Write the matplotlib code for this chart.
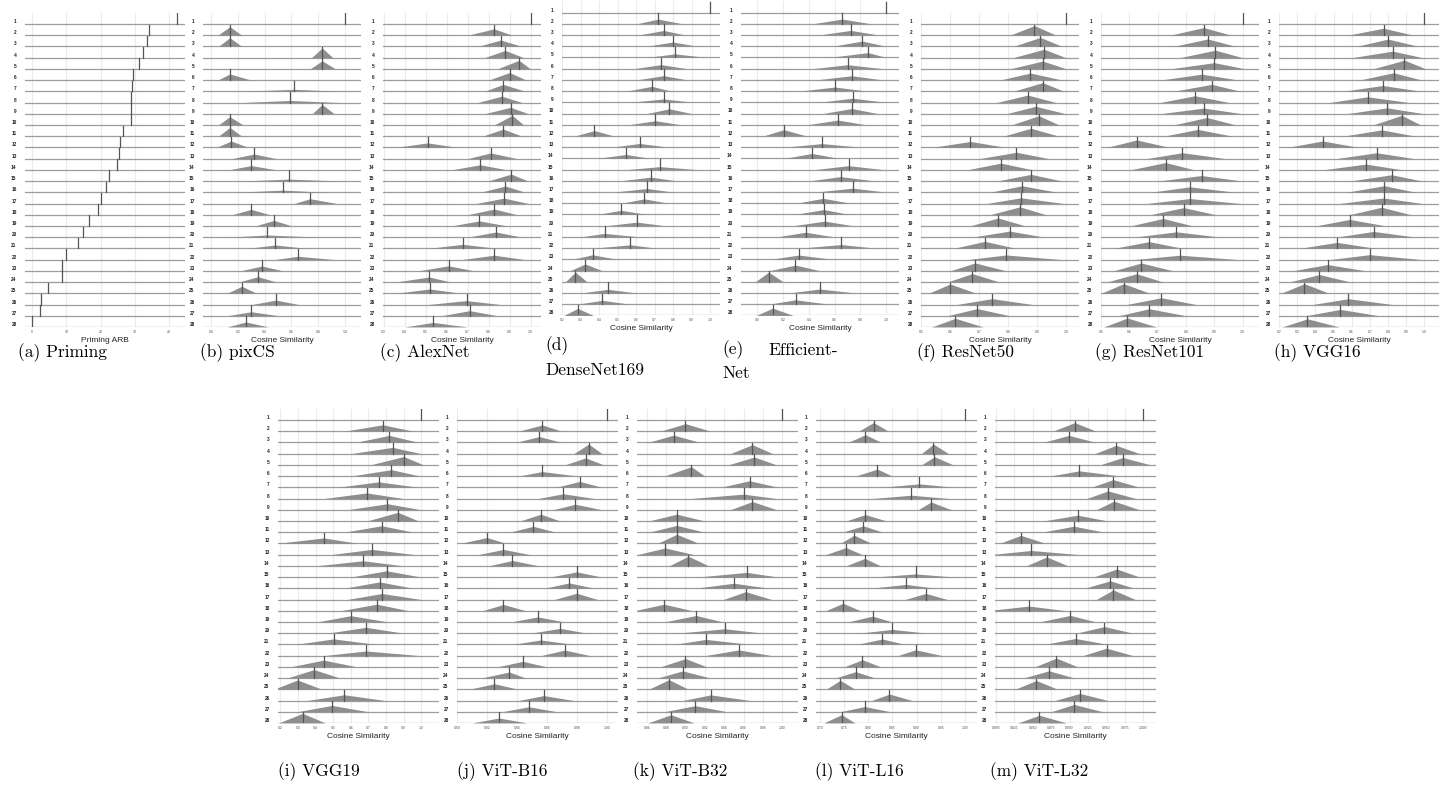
import numpy as np
import matplotlib
matplotlib.use("Agg")
import matplotlib.pyplot as plt

plt.rcParams['font.family'] = ['Liberation Sans', 'DejaVu Sans']

rows = [str(i) for i in range(1, 29)]

# Priming ARB per image (only a median marker, no spread)
priming_arb = [42.4, 34.0, 33.4, 32.3, 31.1, 29.4, 29.1, 28.9, 28.8, 28.8, 26.5, 25.6, 25.3, 24.7,
               22.4, 21.5, 20.0, 19.2, 16.6, 14.9, 13.4, 9.9, 8.8, 8.8, 4.8, 2.8, 2.4, 0.0]

# cosine similarity: median, visible lower end, visible upper end
pixcs_med = [1.0, 0.14, 0.14, 0.83, 0.83, 0.14, 0.62, 0.59, 0.83, 0.14, 0.14, 0.15, 0.32, 0.30,
             0.58, 0.535, 0.74, 0.30, 0.47, 0.42, 0.48, 0.65, 0.38, 0.35, 0.23, 0.485, 0.30, 0.26]
pixcs_lo = [1.0, 0.05, 0.055, 0.75, 0.74, 0.05, 0.22, 0.22, 0.755, 0.055, 0.055, 0.04, 0.155, 0.13,
            0.22, 0.17, 0.62, 0.155, 0.33, 0.12, 0.27, 0.47, 0.22, 0.205, 0.12, 0.305, 0.12, 0.12]
pixcs_hi = [1.0, 0.23, 0.23, 0.91, 0.93, 0.30, 0.99, 0.97, 0.92, 0.24, 0.23, 0.28, 0.49, 0.49,
            0.99, 0.88, 0.94, 0.44, 0.605, 0.82, 0.72, 0.93, 0.54, 0.49, 0.34, 0.655, 0.505, 0.43]

alex_med = [1.0, 0.827, 0.858, 0.879, 0.945, 0.90, 0.87, 0.863, 0.905, 0.913, 0.87, 0.51, 0.81, 0.76,
            0.908, 0.88, 0.874, 0.827, 0.756, 0.835, 0.677, 0.827, 0.61, 0.517, 0.52, 0.695, 0.71, 0.536]
alex_lo = [1.0, 0.70, 0.748, 0.78, 0.842, 0.80, 0.78, 0.748, 0.78, 0.827, 0.77, 0.355, 0.70, 0.622,
           0.795, 0.76, 0.74, 0.70, 0.622, 0.70, 0.512, 0.67, 0.465, 0.355, 0.355, 0.512, 0.575, 0.40]
alex_hi = [1.0, 0.913, 0.96, 0.968, 1.0, 0.98, 0.976, 0.96, 0.99, 0.968, 0.96, 0.654, 0.937, 0.89,
           0.99, 0.976, 0.99, 0.937, 0.89, 0.96, 0.842, 0.976, 0.732, 0.622, 0.67, 0.858, 0.842, 0.70]

dense_med = [1.0, 0.72, 0.75, 0.80, 0.81, 0.735, 0.75, 0.686, 0.75, 0.78, 0.705, 0.375, 0.62, 0.545,
             0.73, 0.68, 0.66, 0.645, 0.52, 0.605, 0.43, 0.57, 0.365, 0.326, 0.272, 0.448, 0.418, 0.285]
dense_lo = [1.0, 0.605, 0.614, 0.66, 0.66, 0.59, 0.605, 0.55, 0.57, 0.66, 0.56, 0.27, 0.47, 0.39,
            0.55, 0.515, 0.48, 0.52, 0.39, 0.44, 0.30, 0.37, 0.254, 0.245, 0.218, 0.30, 0.28, 0.21]
dense_hi = [1.0, 0.85, 0.865, 0.93, 0.98, 0.875, 0.875, 0.79, 0.91, 0.90, 0.84, 0.48, 0.775, 0.68,
            0.93, 0.82, 0.80, 0.775, 0.66, 0.755, 0.62, 0.71, 0.50, 0.416, 0.335, 0.605, 0.57, 0.37]

eff_med = [1.0, 0.66, 0.725, 0.815, 0.86, 0.70, 0.733, 0.60, 0.74, 0.733, 0.626, 0.205, 0.50, 0.423,
           0.708, 0.646, 0.74, 0.51, 0.515, 0.523, 0.374, 0.65, 0.323, 0.295, 0.087, 0.485, 0.297, 0.118]
eff_lo = [1.0, 0.43, 0.48, 0.585, 0.56, 0.43, 0.456, 0.33, 0.48, 0.51, 0.39, 0.046, 0.21, 0.21,
          0.444, 0.405, 0.456, 0.30, 0.29, 0.277, 0.149, 0.33, 0.097, 0.097, -0.018, 0.238, 0.085, -0.01]
eff_hi = [1.0, 0.88, 0.94, 0.995, 1.0, 0.97, 0.97, 0.854, 0.995, 0.93, 0.84, 0.38, 0.80, 0.636,
          0.98, 0.905, 0.995, 0.725, 0.713, 0.74, 0.597, 0.918, 0.585, 0.48, 0.20, 0.764, 0.56, 0.277]

r50_med = [1.0, 0.89, 0.91, 0.923, 0.918, 0.876, 0.918, 0.867, 0.894, 0.905, 0.878, 0.67, 0.828, 0.775,
           0.878, 0.847, 0.843, 0.84, 0.765, 0.805, 0.72, 0.793, 0.686, 0.676, 0.60, 0.744, 0.693, 0.618]
r50_lo = [1.0, 0.805, 0.816, 0.816, 0.805, 0.77, 0.816, 0.76, 0.793, 0.81, 0.782, 0.537, 0.70, 0.657,
          0.76, 0.736, 0.725, 0.736, 0.668, 0.674, 0.61, 0.657, 0.60, 0.59, 0.526, 0.623, 0.59, 0.537]
r50_hi = [1.0, 0.964, 0.986, 0.998, 1.0, 0.986, 0.992, 0.964, 0.998, 0.975, 0.975, 0.793, 0.94, 0.884,
          0.986, 0.97, 0.992, 0.93, 0.86, 0.924, 0.827, 0.986, 0.793, 0.77, 0.69, 0.884, 0.805, 0.714]

r101_med = [1.0, 0.863, 0.877, 0.904, 0.90, 0.856, 0.891, 0.832, 0.863, 0.874, 0.842, 0.626, 0.787, 0.728,
            0.855, 0.814, 0.814, 0.792, 0.72, 0.766, 0.67, 0.78, 0.642, 0.626, 0.58, 0.713, 0.67, 0.593]
r101_lo = [1.0, 0.743, 0.755, 0.778, 0.743, 0.708, 0.755, 0.708, 0.708, 0.755, 0.72, 0.52, 0.66, 0.603,
           0.70, 0.673, 0.66, 0.673, 0.603, 0.614, 0.544, 0.614, 0.544, 0.52, 0.50, 0.59, 0.562, 0.51]
r101_hi = [1.0, 0.96, 0.977, 1.0, 1.01, 0.988, 0.994, 0.953, 1.0, 0.977, 0.965, 0.743, 0.94, 0.83,
           1.0, 0.977, 0.994, 0.907, 0.825, 0.924, 0.79, 0.988, 0.755, 0.72, 0.673, 0.836, 0.80, 0.696]

vgg16_med = [1.0, 0.775, 0.80, 0.825, 0.89, 0.83, 0.77, 0.687, 0.794, 0.875, 0.765, 0.44, 0.737, 0.678,
             0.82, 0.78, 0.775, 0.764, 0.588, 0.72, 0.52, 0.698, 0.467, 0.422, 0.34, 0.582, 0.538, 0.356]
vgg16_lo = [1.0, 0.577, 0.623, 0.60, 0.715, 0.64, 0.55, 0.476, 0.568, 0.715, 0.55, 0.246, 0.512, 0.44,
            0.586, 0.568, 0.53, 0.586, 0.40, 0.512, 0.31, 0.476, 0.273, 0.255, 0.21, 0.384, 0.347, 0.218]
vgg16_hi = [1.0, 0.94, 0.97, 0.99, 1.008, 0.987, 0.987, 0.917, 1.0, 0.98, 0.953, 0.64, 0.945, 0.88,
            0.99, 0.953, 0.99, 0.926, 0.79, 0.953, 0.733, 0.99, 0.678, 0.595, 0.476, 0.825, 0.75, 0.53]

vgg19_med = [1.0, 0.782, 0.818, 0.837, 0.90, 0.83, 0.758, 0.69, 0.807, 0.867, 0.775, 0.446, 0.72, 0.669,
             0.803, 0.763, 0.777, 0.748, 0.599, 0.686, 0.502, 0.686, 0.446, 0.39, 0.298, 0.563, 0.493, 0.327]
vgg19_lo = [1.0, 0.56, 0.625, 0.597, 0.71, 0.597, 0.52, 0.446, 0.578, 0.69, 0.56, 0.18, 0.484, 0.40,
            0.597, 0.56, 0.578, 0.54, 0.408, 0.465, 0.285, 0.446, 0.257, 0.238, 0.162, 0.351, 0.295, 0.19]
vgg19_hi = [1.0, 0.956, 0.985, 1.0, 1.013, 0.994, 0.985, 0.90, 1.0, 0.985, 0.956, 0.644, 0.966, 0.90,
            1.0, 0.956, 1.0, 0.928, 0.814, 0.90, 0.748, 0.994, 0.635, 0.54, 0.436, 0.795, 0.70, 0.455]

b16_med = [1.0, 0.957, 0.955, 0.988, 0.986, 0.957, 0.982, 0.971, 0.979, 0.956, 0.951, 0.92, 0.931, 0.937,
           0.98, 0.975, 0.98, 0.931, 0.954, 0.969, 0.956, 0.972, 0.944, 0.935, 0.925, 0.958, 0.948, 0.928]
b16_lo = [1.0, 0.941, 0.939, 0.978, 0.972, 0.941, 0.966, 0.954, 0.964, 0.942, 0.935, 0.902, 0.914, 0.921,
          0.962, 0.958, 0.965, 0.917, 0.936, 0.949, 0.937, 0.956, 0.927, 0.916, 0.908, 0.941, 0.93, 0.91]
b16_hi = [1.0, 0.97, 0.97, 0.997, 0.998, 0.981, 0.997, 0.992, 0.997, 0.969, 0.966, 0.933, 0.949, 0.955,
          0.997, 0.992, 0.994, 0.946, 0.972, 0.987, 0.978, 0.989, 0.96, 0.946, 0.941, 0.978, 0.967, 0.947]

b32_med = [1.0, 0.90, 0.888, 0.969, 0.971, 0.906, 0.966, 0.96, 0.969, 0.891, 0.891, 0.891, 0.879, 0.903,
           0.963, 0.95, 0.962, 0.878, 0.911, 0.941, 0.921, 0.955, 0.90, 0.897, 0.883, 0.926, 0.91, 0.885]
b32_lo = [1.0, 0.874, 0.861, 0.946, 0.944, 0.878, 0.936, 0.905, 0.946, 0.862, 0.862, 0.871, 0.85, 0.883,
          0.912, 0.909, 0.939, 0.847, 0.878, 0.891, 0.888, 0.92, 0.874, 0.871, 0.862, 0.897, 0.878, 0.861]
b32_hi = [1.0, 0.926, 0.915, 0.99, 0.994, 0.92, 0.996, 0.994, 0.994, 0.92, 0.92, 0.914, 0.909, 0.924,
          0.996, 0.987, 0.989, 0.907, 0.939, 0.98, 0.967, 0.989, 0.922, 0.926, 0.903, 0.967, 0.943, 0.909]

l16_med = [1.0, 0.811, 0.794, 0.935, 0.937, 0.819, 0.905, 0.889, 0.93, 0.794, 0.79, 0.771, 0.754, 0.793,
           0.898, 0.878, 0.919, 0.748, 0.809, 0.85, 0.829, 0.898, 0.788, 0.774, 0.742, 0.844, 0.793, 0.745]
l16_lo = [1.0, 0.78, 0.758, 0.91, 0.91, 0.773, 0.826, 0.807, 0.903, 0.754, 0.746, 0.742, 0.712, 0.754,
          0.811, 0.803, 0.876, 0.712, 0.758, 0.78, 0.777, 0.861, 0.75, 0.731, 0.713, 0.807, 0.742, 0.708]
l16_hi = [1.0, 0.842, 0.828, 0.966, 0.976, 0.85, 0.98, 0.968, 0.972, 0.838, 0.83, 0.807, 0.788, 0.826,
          0.98, 0.941, 0.964, 0.784, 0.85, 0.922, 0.876, 0.953, 0.826, 0.815, 0.773, 0.891, 0.846, 0.773]

l32_med = [1.0, 0.907, 0.899, 0.963, 0.972, 0.913, 0.959, 0.952, 0.96, 0.911, 0.906, 0.834, 0.848, 0.869,
           0.964, 0.955, 0.959, 0.845, 0.901, 0.947, 0.908, 0.95, 0.882, 0.872, 0.855, 0.914, 0.906, 0.859]
l32_lo = [1.0, 0.877, 0.864, 0.934, 0.941, 0.873, 0.929, 0.923, 0.936, 0.864, 0.862, 0.805, 0.792, 0.841,
          0.932, 0.92, 0.936, 0.787, 0.859, 0.909, 0.866, 0.918, 0.853, 0.837, 0.826, 0.88, 0.875, 0.83]
l32_hi = [1.0, 0.936, 0.936, 0.995, 1.01, 0.97, 0.995, 0.99, 0.995, 0.952, 0.947, 0.868, 0.914, 0.898,
          0.995, 0.988, 0.989, 0.896, 0.936, 0.986, 0.952, 0.986, 0.911, 0.907, 0.884, 0.952, 0.945, 0.896]

W, H = 1440, 785
fig = plt.figure(figsize=(W / 100, H / 100), dpi=100)


def ridge(left, top, width, med, lo, hi, xlim, ticks, fmt, xlabel):
    height = 28 * 11.22
    ax = fig.add_axes([left / W, 1 - (top + height) / H, width / W, height / H])
    ax.set_xlim(*xlim)
    ax.set_ylim(-28, 0)
    for t in ticks:
        ax.axvline(t, color='#ebebeb', lw=0.8, zorder=0)
    widths = [h - l for l, h in zip(lo, hi) if h > l] if lo else [1]
    wmin = min(widths)
    for i in range(28):
        y0 = -(i + 1)
        ax.axhline(y0, color='#9c9c9c', lw=0.9, zorder=1)
        if lo and hi[i] > lo[i]:
            h = 0.86 * wmin / (hi[i] - lo[i])
            ax.fill_between([lo[i], med[i], hi[i]], [y0, y0, y0], [y0, y0 + h, y0],
                            color='#8e8e8e', lw=0, zorder=2)
        ax.plot([med[i], med[i]], [y0, y0 + 0.95], color='#555555', lw=0.9, zorder=3)
    for s in ax.spines.values():
        s.set_visible(False)
    ax.set_xticks(ticks)
    ax.set_xticklabels([fmt.format(t) for t in ticks], fontsize=2.4, color='#4d4d4d')
    ax.set_yticks([-(i + 1) for i in range(28)])
    ax.set_yticklabels(rows, fontsize=3.4, fontweight='bold', color='#222222')
    for lab in ax.get_yticklabels():
        lab.set_va('bottom')
    ax.tick_params(length=0, pad=2)
    ax.tick_params(axis='y', pad=6)
    ax.annotate(xlabel, (0.5, 0), xycoords='axes fraction', xytext=(0, -9.5),
                textcoords='offset points', ha='center', va='center', fontsize=6, color='#222222')
    return ax


def caption(x, y, s, ha='left'):
    fig.text(x / W, 1 - y / H, s, fontsize=12.5, family='cmr10', ha=ha, va='center')


t01 = [0.0, 0.2, 0.4, 0.6, 0.8, 1.0]
cs = 'Cosine Similarity'

ridge(25, 12.8, 160, priming_arb, None, None, (-2, 44.6), [0, 10, 20, 30, 40], '{:.0f}', 'Priming ARB')
ridge(203, 12.8, 158, pixcs_med, pixcs_lo, pixcs_hi, (-0.06, 1.12), t01, '{:.1f}', cs)
ridge(383, 12.8, 158, alex_med, alex_lo, alex_hi, (0.297, 1.05), list(np.arange(3, 11) / 10), '{:.1f}', cs)
ridge(562, 1.3, 158, dense_med, dense_lo, dense_hi, (0.2, 1.054), list(np.arange(2, 11) / 10), '{:.1f}', cs)
ridge(741, 1.3, 158, eff_med, eff_lo, eff_hi, (-0.128, 1.10), t01, '{:.1f}', cs)
ridge(921, 12.8, 158, r50_med, r50_lo, r50_hi, (0.5, 1.043), list(np.arange(5, 11) / 10), '{:.1f}', cs)
ridge(1101, 12.8, 158, r101_med, r101_lo, r101_hi, (0.5, 1.058), list(np.arange(5, 11) / 10), '{:.1f}', cs)
ridge(1279, 12.8, 160, vgg16_med, vgg16_lo, vgg16_hi, (0.2, 1.08), list(np.arange(2, 11) / 10), '{:.1f}', cs)

ridge(278, 408.8, 161, vgg19_med, vgg19_lo, vgg19_hi, (0.187, 1.10), list(np.arange(2, 11) / 10), '{:.1f}', cs)
ridge(457, 408.8, 161, b16_med, b16_lo, b16_hi, (0.9005, 1.0076), list(np.arange(90, 101, 2) / 100), '{:.2f}', cs)
ridge(637, 408.8, 161, b32_med, b32_lo, b32_hi, (0.85, 1.016), list(np.arange(86, 101, 2) / 100), '{:.2f}', cs)
ridge(816, 408.8, 161, l16_med, l16_lo, l16_hi, (0.692, 1.025), list(np.arange(70, 101, 5) / 100), '{:.2f}', cs)
ridge(995, 408.8, 161, l32_med, l32_lo, l32_hi, (0.799, 1.017), list(np.arange(800, 1001, 25) / 1000), '{:.3f}', cs)

caption(18, 353, '(a) Priming')
caption(200, 353, '(b) pixCS')
caption(380, 353, '(c) AlexNet')
caption(545, 346, '(d)')
caption(545, 370, 'DenseNet169')
caption(722, 350, '(e)')
caption(838, 350, 'Efficient-', ha='right')
caption(722, 373, 'Net')
caption(917, 353, '(f) ResNet50')
caption(1095, 353, '(g) ResNet101')
caption(1274, 353, '(h) VGG16')
caption(278, 772, '(i) VGG19')
caption(457, 772, '(j) ViT-B16')
caption(633, 772, '(k) ViT-B32')
caption(815, 772, '(l) ViT-L16')
caption(990, 772, '(m) ViT-L32')

fig.savefig('out.png', dpi=100)
